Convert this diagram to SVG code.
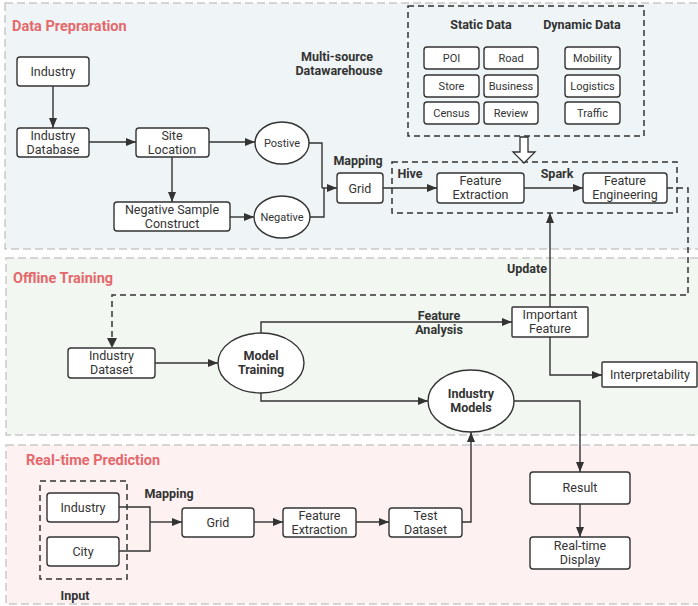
<svg xmlns="http://www.w3.org/2000/svg" width="698" height="606" viewBox="0 0 698 606">
  <style>
    .box { fill: #ffffff; stroke: #333333; stroke-width: 1.4; }
    .lbl { font-family: Roboto, "Noto Sans", sans-serif; font-size: 12.5px; fill: #333333; text-anchor: middle; }
    .sm { font-family: Roboto, "Noto Sans", sans-serif; font-size: 11px; fill: #333333; text-anchor: middle; }
    .bold { font-family: Roboto, "Noto Sans", sans-serif; font-size: 12.5px; font-weight: bold; fill: #333333; text-anchor: middle; }
    .title { font-family: Roboto, "Noto Sans", sans-serif; font-size: 14.5px; font-weight: bold; fill: #e5686b; }
    .sec { stroke: #c9c9c9; stroke-width: 1.5; stroke-dasharray: 8 4; }
    .grp { fill: none; stroke: #333333; stroke-width: 1.5; stroke-dasharray: 6 4; }
    .wire { fill: none; stroke: #333333; stroke-width: 1.4; }
    .dwire { fill: none; stroke: #333333; stroke-width: 1.5; stroke-dasharray: 6 4; }
  </style>
  <defs>
    <marker id="arr" viewBox="0 0 10 8" refX="10" refY="4" markerWidth="10" markerHeight="8" markerUnits="userSpaceOnUse" orient="auto">
      <path d="M0,0 L10,4 L0,8 Z" fill="#333333"/>
    </marker>
  </defs>

  <!-- section panels -->
  <g id="sections">
    <rect x="5" y="3" width="700" height="246" fill="#eff5f6" class="sec"/>
    <rect x="6" y="258" width="700" height="177" fill="#f2f7f1" class="sec"/>
    <rect x="6" y="445" width="700" height="159" fill="#fdf1f2" class="sec"/>
    <text class="title" x="12" y="31">Data Prepraration</text>
    <text class="title" x="13" y="283">Offline Training</text>
    <text class="title" x="26" y="465">Real-time Prediction</text>
  </g>

  <!-- group frames and free labels -->
  <g id="frames">
    <rect class="grp" x="408" y="6" width="236" height="130"/>
    <rect class="grp" x="392" y="162" width="285" height="51"/>
    <rect class="grp" x="40" y="481" width="87" height="98"/>
    <text class="bold" x="337" y="60.5">Multi-source</text>
    <text class="bold" x="339" y="75">Datawarehouse</text>
    <text class="bold" x="481" y="29">Static Data</text>
    <text class="bold" x="582" y="29">Dynamic Data</text>
    <text class="bold" x="410" y="178">Hive</text>
    <text class="bold" x="557" y="178">Spark</text>
    <text class="bold" x="358" y="165">Mapping</text>
    <text class="bold" x="527" y="273">Update</text>
    <text class="bold" x="439" y="319.5">Feature</text>
    <text class="bold" x="439" y="334">Analysis</text>
    <text class="bold" x="169" y="498">Mapping</text>
    <text class="bold" x="75" y="600">Input</text>
  </g>

  <!-- connectors -->
  <g id="connectors">
    <path class="wire" d="M53,86 V128" marker-end="url(#arr)"/>
    <path class="wire" d="M89,142 H136" marker-end="url(#arr)"/>
    <path class="wire" d="M209,142 H255" marker-end="url(#arr)"/>
    <path class="wire" d="M172,157 V202" marker-end="url(#arr)"/>
    <path class="wire" d="M230,217 H254" marker-end="url(#arr)"/>
    <path class="wire" d="M308,143 H322 V188"/>
    <path class="wire" d="M310,217 H324 V188"/>
    <path class="wire" d="M322,188 H337" marker-end="url(#arr)"/>
    <path class="wire" d="M383,188 H437" marker-end="url(#arr)"/>
    <path class="wire" d="M524,188 H583" marker-end="url(#arr)"/>
    <path d="M520,137 H528 V152 H535 L524,163 L513,152 H520 Z" fill="#ffffff" stroke="#333333" stroke-width="1.3"/>
    <path class="dwire" d="M667,188 H688 V295 H112 V340"/>
    <path d="M107,338 L112,348 L117,338 Z" fill="#333333"/>
    <path class="wire" d="M550,307 V213" marker-end="url(#arr)"/>
    <path class="wire" d="M155,363 H218" marker-end="url(#arr)"/>
    <path class="wire" d="M261,333 V322 H512" marker-end="url(#arr)"/>
    <path class="wire" d="M550,337 V375 H602" marker-end="url(#arr)"/>
    <path class="wire" d="M261,393 V401 H428" marker-end="url(#arr)"/>
    <path class="wire" d="M514,401 H580 V472" marker-end="url(#arr)"/>
    <path class="wire" d="M580,504 V537" marker-end="url(#arr)"/>
    <path class="wire" d="M119,507 H150 V551 H119"/>
    <path class="wire" d="M150,522 H182" marker-end="url(#arr)"/>
    <path class="wire" d="M254,522 H283" marker-end="url(#arr)"/>
    <path class="wire" d="M356,522 H389" marker-end="url(#arr)"/>
    <path class="wire" d="M462,522 H471 V432" marker-end="url(#arr)"/>
  </g>

  <!-- data preparation nodes -->
  <g id="industry-src"><rect class="box" x="17" y="57" width="72" height="29" rx="3"/><text class="lbl" x="53" y="76">Industry</text></g>
  <g id="industry-db"><rect class="box" x="17" y="128" width="72" height="29" rx="3"/><text class="lbl" x="53" y="139.5">Industry</text><text class="lbl" x="53" y="154">Database</text></g>
  <g id="site-location"><rect class="box" x="136" y="128" width="73" height="29" rx="3"/><text class="lbl" x="172" y="139.5">Site</text><text class="lbl" x="172" y="154">Location</text></g>
  <g id="negative-sample"><rect class="box" x="114" y="202" width="116" height="29" rx="3"/><text class="lbl" x="172" y="213.5">Negative Sample</text><text class="lbl" x="172" y="228">Construct</text></g>
  <g id="positive"><ellipse class="box" cx="282" cy="143" rx="27" ry="21"/><text class="sm" x="282" y="147">Postive</text></g>
  <g id="negative"><ellipse class="box" cx="282" cy="217" rx="28" ry="21"/><text class="sm" x="282" y="221">Negative</text></g>
  <g id="grid-dp"><rect class="box" x="337" y="173" width="46" height="30" rx="3"/><text class="lbl" x="360" y="192.5">Grid</text></g>
  <g id="poi"><rect class="box" x="424" y="47" width="55" height="22" rx="3"/><text class="sm" x="451.5" y="62">POI</text></g>
  <g id="road"><rect class="box" x="484" y="47" width="54" height="22" rx="3"/><text class="sm" x="511" y="62">Road</text></g>
  <g id="mobility"><rect class="box" x="565" y="47" width="55" height="22" rx="3"/><text class="sm" x="592.5" y="62">Mobility</text></g>
  <g id="store"><rect class="box" x="424" y="75" width="55" height="22" rx="3"/><text class="sm" x="451.5" y="90">Store</text></g>
  <g id="business"><rect class="box" x="484" y="75" width="54" height="22" rx="3"/><text class="sm" x="511" y="90">Business</text></g>
  <g id="logistics"><rect class="box" x="565" y="75" width="55" height="22" rx="3"/><text class="sm" x="592.5" y="90">Logistics</text></g>
  <g id="census"><rect class="box" x="424" y="102" width="55" height="22" rx="3"/><text class="sm" x="451.5" y="117">Census</text></g>
  <g id="review"><rect class="box" x="484" y="102" width="54" height="22" rx="3"/><text class="sm" x="511" y="117">Review</text></g>
  <g id="traffic"><rect class="box" x="565" y="102" width="55" height="22" rx="3"/><text class="sm" x="592.5" y="117">Traffic</text></g>
  <g id="feature-extraction"><rect class="box" x="437" y="173" width="87" height="30" rx="3"/><text class="lbl" x="480.5" y="184.5">Feature</text><text class="lbl" x="480.5" y="199">Extraction</text></g>
  <g id="feature-engineering"><rect class="box" x="583" y="173" width="84" height="30" rx="3"/><text class="lbl" x="625" y="184.5">Feature</text><text class="lbl" x="625" y="199">Engineering</text></g>

  <!-- offline training nodes -->
  <g id="industry-dataset"><rect class="box" x="68" y="348" width="87" height="30" rx="3"/><text class="lbl" x="111.5" y="359.5">Industry</text><text class="lbl" x="111.5" y="374">Dataset</text></g>
  <g id="model-training"><ellipse class="box" cx="261" cy="363" rx="43" ry="30"/><text class="bold" x="261" y="359.5">Model</text><text class="bold" x="261" y="374">Training</text></g>
  <g id="important-feature"><rect class="box" x="512" y="307" width="76" height="30" rx="1"/><text class="lbl" x="550" y="318.5">Important</text><text class="lbl" x="550" y="333">Feature</text></g>
  <g id="interpretability"><rect class="box" x="602" y="362" width="95" height="25" rx="1"/><text class="lbl" x="650" y="379">Interpretability</text></g>
  <g id="industry-models"><ellipse class="box" cx="471" cy="401" rx="43" ry="31"/><text class="bold" x="471" y="397.5">Industry</text><text class="bold" x="471" y="412">Models</text></g>

  <!-- real-time prediction nodes -->
  <g id="industry-in"><rect class="box" x="47" y="493" width="72" height="29" rx="3"/><text class="lbl" x="83" y="512">Industry</text></g>
  <g id="city-in"><rect class="box" x="47" y="537" width="72" height="29" rx="3"/><text class="lbl" x="83" y="556">City</text></g>
  <g id="grid-rt"><rect class="box" x="182" y="508" width="72" height="29" rx="3"/><text class="lbl" x="218" y="527">Grid</text></g>
  <g id="feature-extraction-rt"><rect class="box" x="283" y="508" width="73" height="29" rx="3"/><text class="lbl" x="319.5" y="519.5">Feature</text><text class="lbl" x="319.5" y="534">Extraction</text></g>
  <g id="test-dataset"><rect class="box" x="389" y="508" width="73" height="29" rx="3"/><text class="lbl" x="425.5" y="519.5">Test</text><text class="lbl" x="425.5" y="534">Dataset</text></g>
  <g id="result"><rect class="box" x="530" y="472" width="100" height="32" rx="3"/><text class="lbl" x="580" y="492">Result</text></g>
  <g id="realtime-display"><rect class="box" x="530" y="537" width="100" height="32" rx="3"/><text class="lbl" x="580" y="549.5">Real-time</text><text class="lbl" x="580" y="564">Display</text></g>
</svg>
